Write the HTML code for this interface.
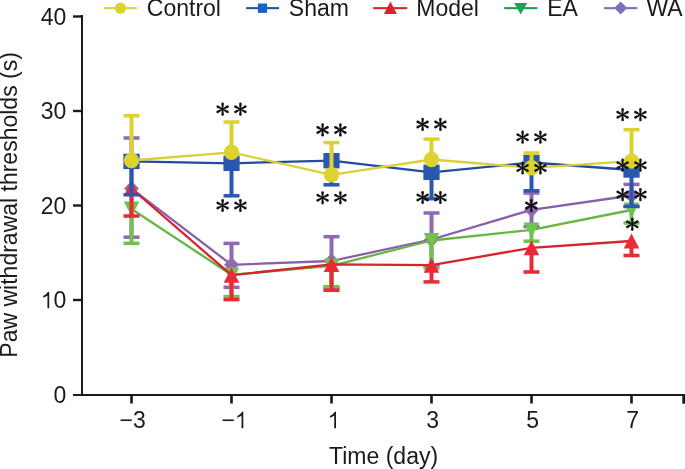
<!DOCTYPE html>
<html><head><meta charset="utf-8"><style>
html,body{margin:0;padding:0;background:#fff;width:685px;height:469px;overflow:hidden}
svg{display:block;will-change:transform}
</style></head><body>
<svg width="685" height="469" viewBox="0 0 685 469" font-family="Liberation Sans, sans-serif" font-size="23" fill="#1a1a1a">
<rect x="81" y="15" width="2" height="381" fill="#1a1a1a"/><rect x="73" y="394" width="612" height="2" fill="#1a1a1a"/><text x="53.51" y="402.80">0</text><rect x="73" y="298.80" width="9" height="2.4" fill="#1a1a1a"/><path d="M755,0 L600,0 L600,1147 Q518,1085 412,1023 Q306,961 221,930 L221,1104 Q372,1175 485,1276 Q598,1377 645,1472 L755,1472 Z" transform="translate(40.72,308.30) scale(0.01123,-0.01123)"/><text x="53.51" y="308.30">0</text><rect x="73" y="204.30" width="9" height="2.4" fill="#1a1a1a"/><text x="40.72" y="213.80">2</text><text x="53.51" y="213.80">0</text><rect x="73" y="109.80" width="9" height="2.4" fill="#1a1a1a"/><text x="40.72" y="119.30">3</text><text x="53.51" y="119.30">0</text><rect x="73" y="15.30" width="9" height="2.4" fill="#1a1a1a"/><text x="40.72" y="24.80">4</text><text x="53.51" y="24.80">0</text><rect x="130.20" y="395" width="2.6" height="8.5" fill="#1a1a1a"/><text x="119.59" y="428.30">−</text><text x="133.02" y="428.30">3</text><rect x="230.20" y="395" width="2.6" height="8.5" fill="#1a1a1a"/><text x="221.39" y="428.30">−</text><path d="M755,0 L600,0 L600,1147 Q518,1085 412,1023 Q306,961 221,930 L221,1104 Q372,1175 485,1276 Q598,1377 645,1472 L755,1472 Z" transform="translate(234.82,428.30) scale(0.01123,-0.01123)"/><rect x="330.20" y="395" width="2.6" height="8.5" fill="#1a1a1a"/><path d="M755,0 L600,0 L600,1147 Q518,1085 412,1023 Q306,961 221,930 L221,1104 Q372,1175 485,1276 Q598,1377 645,1472 L755,1472 Z" transform="translate(327.51,428.30) scale(0.01123,-0.01123)"/><rect x="430.20" y="395" width="2.6" height="8.5" fill="#1a1a1a"/><text x="426.31" y="428.30">3</text><rect x="530.20" y="395" width="2.6" height="8.5" fill="#1a1a1a"/><text x="526.31" y="428.30">5</text><rect x="630.20" y="395" width="2.6" height="8.5" fill="#1a1a1a"/><text x="626.31" y="428.30">7</text><rect x="682.3" y="394" width="3" height="9.7" fill="#1a1a1a"/><text x="383.6" y="464.2" text-anchor="middle">Time (day)</text><text transform="translate(17,204.9) rotate(-90)" text-anchor="middle">Paw withdrawal thresholds (s)</text>
<rect x="103.9" y="7.1" width="32.9" height="2.1" fill="#d9cf45"/><circle cx="120.5" cy="8.2" r="5.6" fill="#ddd22e"/><text x="146.8" y="16.3">Control</text><rect x="246.1" y="7.1" width="32.9" height="2.1" fill="#1d559f"/><rect x="257.9" y="3.5" width="9.2" height="9.4" fill="#1565c0"/><text x="288.8" y="16.3">Sham</text><rect x="373.2" y="7.1" width="34.0" height="2.1" fill="#dc2330"/><polygon points="390.4,1.6 396.9,13.9 383.9,13.9" fill="#e0202a"/><text x="416.3" y="16.3">Model</text><rect x="504.2" y="7.1" width="33.2" height="2.1" fill="#1d9c55"/><polygon points="514.2,3.0 527.2,3.0 520.7,14.6" fill="#1aa555"/><text x="547.1999999999999" y="16.3">EA</text><rect x="604.0" y="7.1" width="33.3" height="2.1" fill="#7a6fbc"/><polygon points="620.7,1.6 627.2,8.0 620.7,14.5 614.2,8.0" fill="#7b70c0"/><text x="646.5" y="16.3">WA</text>
<polyline points="131.50,188.60 231.50,264.80 331.50,261.00 431.50,239.50 531.50,209.80 631.50,195.50" fill="none" stroke="#8660aa" stroke-width="2.3" stroke-linejoin="round"/>
<rect x="129.50" y="138.00" width="4.0" height="50.60" fill="#9168b2"/>
<rect x="123.50" y="136.25" width="16.0" height="3.5" fill="#9168b2"/>
<rect x="129.50" y="188.60" width="4.0" height="48.60" fill="#9168b2"/>
<rect x="123.50" y="235.45" width="16.0" height="3.5" fill="#9168b2"/>
<rect x="229.50" y="243.40" width="4.0" height="21.40" fill="#9168b2"/>
<rect x="223.50" y="241.65" width="16.0" height="3.5" fill="#9168b2"/>
<rect x="229.50" y="264.80" width="4.0" height="22.50" fill="#9168b2"/>
<rect x="223.50" y="285.55" width="16.0" height="3.5" fill="#9168b2"/>
<rect x="329.50" y="236.70" width="4.0" height="24.30" fill="#9168b2"/>
<rect x="323.50" y="234.95" width="16.0" height="3.5" fill="#9168b2"/>
<rect x="329.50" y="261.00" width="4.0" height="27.00" fill="#9168b2"/>
<rect x="323.50" y="286.25" width="16.0" height="3.5" fill="#9168b2"/>
<rect x="429.50" y="213.00" width="4.0" height="26.50" fill="#9168b2"/>
<rect x="423.50" y="211.25" width="16.0" height="3.5" fill="#9168b2"/>
<rect x="429.50" y="239.50" width="4.0" height="26.50" fill="#9168b2"/>
<rect x="423.50" y="264.25" width="16.0" height="3.5" fill="#9168b2"/>
<rect x="529.50" y="193.00" width="4.0" height="16.80" fill="#9168b2"/>
<rect x="523.50" y="191.25" width="16.0" height="3.5" fill="#9168b2"/>
<rect x="529.50" y="209.80" width="4.0" height="16.70" fill="#9168b2"/>
<rect x="523.50" y="224.75" width="16.0" height="3.5" fill="#9168b2"/>
<rect x="629.50" y="184.40" width="4.0" height="11.10" fill="#9168b2"/>
<rect x="623.50" y="182.65" width="16.0" height="3.5" fill="#9168b2"/>
<rect x="629.50" y="195.50" width="4.0" height="11.10" fill="#9168b2"/>
<rect x="623.50" y="204.85" width="16.0" height="3.5" fill="#9168b2"/>
<polygon points="131.50,180.70 138.90,188.60 131.50,196.50 124.10,188.60" fill="#9168b2"/>
<polygon points="231.50,256.90 238.90,264.80 231.50,272.70 224.10,264.80" fill="#9168b2"/>
<polygon points="331.50,253.10 338.90,261.00 331.50,268.90 324.10,261.00" fill="#9168b2"/>
<polygon points="431.50,231.60 438.90,239.50 431.50,247.40 424.10,239.50" fill="#9168b2"/>
<polygon points="531.50,201.90 538.90,209.80 531.50,217.70 524.10,209.80" fill="#9168b2"/>
<polygon points="631.50,187.60 638.90,195.50 631.50,203.40 624.10,195.50" fill="#9168b2"/><polyline points="131.50,209.00 231.50,274.80 331.50,265.80 431.50,240.50 531.50,229.80 631.50,210.00" fill="none" stroke="#66b545" stroke-width="2.3" stroke-linejoin="round"/>
<rect x="129.50" y="209.00" width="4.0" height="34.30" fill="#72c24e"/>
<rect x="123.50" y="241.55" width="16.0" height="3.5" fill="#72c24e"/>
<rect x="229.50" y="274.80" width="4.0" height="21.70" fill="#72c24e"/>
<rect x="223.50" y="294.75" width="16.0" height="3.5" fill="#72c24e"/>
<rect x="329.50" y="265.80" width="4.0" height="20.90" fill="#72c24e"/>
<rect x="323.50" y="284.95" width="16.0" height="3.5" fill="#72c24e"/>
<rect x="429.50" y="240.50" width="4.0" height="27.50" fill="#72c24e"/>
<rect x="423.50" y="266.25" width="16.0" height="3.5" fill="#72c24e"/>
<rect x="529.50" y="229.80" width="4.0" height="11.40" fill="#72c24e"/>
<rect x="523.50" y="239.45" width="16.0" height="3.5" fill="#72c24e"/>
<rect x="629.50" y="210.00" width="4.0" height="13.00" fill="#72c24e"/>
<rect x="623.50" y="221.25" width="16.0" height="3.5" fill="#72c24e"/>
<polygon points="123.70,201.60 139.30,201.60 131.50,216.40" fill="#72c24e"/>
<polygon points="223.70,267.40 239.30,267.40 231.50,282.20" fill="#72c24e"/>
<polygon points="323.70,258.40 339.30,258.40 331.50,273.20" fill="#72c24e"/>
<polygon points="423.70,233.10 439.30,233.10 431.50,247.90" fill="#72c24e"/>
<polygon points="523.70,222.40 539.30,222.40 531.50,237.20" fill="#72c24e"/>
<polygon points="623.70,202.60 639.30,202.60 631.50,217.40" fill="#72c24e"/><polyline points="131.50,188.50 231.50,275.20 331.50,264.40 431.50,265.20 531.50,247.80 631.50,241.00" fill="none" stroke="#d8232f" stroke-width="2.3" stroke-linejoin="round"/>
<rect x="129.50" y="188.50" width="4.0" height="27.50" fill="#ea2a36"/>
<rect x="123.50" y="214.25" width="16.0" height="3.5" fill="#ea2a36"/>
<rect x="229.50" y="275.20" width="4.0" height="24.40" fill="#ea2a36"/>
<rect x="223.50" y="297.85" width="16.0" height="3.5" fill="#ea2a36"/>
<rect x="329.50" y="264.40" width="4.0" height="25.90" fill="#ea2a36"/>
<rect x="323.50" y="288.55" width="16.0" height="3.5" fill="#ea2a36"/>
<rect x="429.50" y="265.20" width="4.0" height="16.70" fill="#ea2a36"/>
<rect x="423.50" y="280.15" width="16.0" height="3.5" fill="#ea2a36"/>
<rect x="529.50" y="247.80" width="4.0" height="24.20" fill="#ea2a36"/>
<rect x="523.50" y="270.25" width="16.0" height="3.5" fill="#ea2a36"/>
<rect x="629.50" y="241.00" width="4.0" height="14.50" fill="#ea2a36"/>
<rect x="623.50" y="253.75" width="16.0" height="3.5" fill="#ea2a36"/>
<polygon points="131.50,181.00 139.30,196.00 123.70,196.00" fill="#ea2a36"/>
<polygon points="231.50,267.70 239.30,282.70 223.70,282.70" fill="#ea2a36"/>
<polygon points="331.50,256.90 339.30,271.90 323.70,271.90" fill="#ea2a36"/>
<polygon points="431.50,257.70 439.30,272.70 423.70,272.70" fill="#ea2a36"/>
<polygon points="531.50,240.30 539.30,255.30 523.70,255.30" fill="#ea2a36"/>
<polygon points="631.50,233.50 639.30,248.50 623.70,248.50" fill="#ea2a36"/><polyline points="131.50,161.40 231.50,163.30 331.50,160.70 431.50,172.30 531.50,162.50 631.50,170.00" fill="none" stroke="#244b9e" stroke-width="2.3" stroke-linejoin="round"/>
<rect x="129.50" y="161.40" width="4.0" height="33.40" fill="#2a57b0"/>
<rect x="123.50" y="193.05" width="16.0" height="3.5" fill="#2a57b0"/>
<rect x="229.50" y="163.30" width="4.0" height="32.50" fill="#2a57b0"/>
<rect x="223.50" y="194.05" width="16.0" height="3.5" fill="#2a57b0"/>
<rect x="329.50" y="160.70" width="4.0" height="24.10" fill="#2a57b0"/>
<rect x="323.50" y="183.05" width="16.0" height="3.5" fill="#2a57b0"/>
<rect x="429.50" y="172.30" width="4.0" height="26.40" fill="#2a57b0"/>
<rect x="423.50" y="196.95" width="16.0" height="3.5" fill="#2a57b0"/>
<rect x="529.50" y="162.50" width="4.0" height="28.30" fill="#2a57b0"/>
<rect x="523.50" y="189.05" width="16.0" height="3.5" fill="#2a57b0"/>
<rect x="629.50" y="170.00" width="4.0" height="36.30" fill="#2a57b0"/>
<rect x="623.50" y="204.55" width="16.0" height="3.5" fill="#2a57b0"/>
<rect x="123.40" y="153.70" width="16.20" height="15.40" fill="#2a57b0"/>
<rect x="223.40" y="155.60" width="16.20" height="15.40" fill="#2a57b0"/>
<rect x="323.40" y="153.00" width="16.20" height="15.40" fill="#2a57b0"/>
<rect x="423.40" y="164.60" width="16.20" height="15.40" fill="#2a57b0"/>
<rect x="523.40" y="154.80" width="16.20" height="15.40" fill="#2a57b0"/>
<rect x="623.40" y="162.30" width="16.20" height="15.40" fill="#2a57b0"/><polyline points="131.50,160.50 231.50,152.30 331.50,174.80 431.50,159.50 531.50,167.80 631.50,161.10" fill="none" stroke="#d9d03a" stroke-width="2.3" stroke-linejoin="round"/>
<rect x="129.50" y="115.70" width="4.0" height="44.80" fill="#ddd22e"/>
<rect x="123.50" y="113.95" width="16.0" height="3.5" fill="#ddd22e"/>
<rect x="229.50" y="122.00" width="4.0" height="30.30" fill="#ddd22e"/>
<rect x="223.50" y="120.25" width="16.0" height="3.5" fill="#ddd22e"/>
<rect x="329.50" y="142.60" width="4.0" height="32.20" fill="#ddd22e"/>
<rect x="323.50" y="140.85" width="16.0" height="3.5" fill="#ddd22e"/>
<rect x="429.50" y="139.10" width="4.0" height="20.40" fill="#ddd22e"/>
<rect x="423.50" y="137.35" width="16.0" height="3.5" fill="#ddd22e"/>
<rect x="529.50" y="153.00" width="4.0" height="14.80" fill="#ddd22e"/>
<rect x="523.50" y="151.25" width="16.0" height="3.5" fill="#ddd22e"/>
<rect x="629.50" y="129.70" width="4.0" height="31.40" fill="#ddd22e"/>
<rect x="623.50" y="127.95" width="16.0" height="3.5" fill="#ddd22e"/>
<circle cx="131.50" cy="160.50" r="7.70" fill="#ddd22e"/>
<circle cx="231.50" cy="152.30" r="7.70" fill="#ddd22e"/>
<circle cx="331.50" cy="174.80" r="7.70" fill="#ddd22e"/>
<circle cx="431.50" cy="159.50" r="7.70" fill="#ddd22e"/>
<circle cx="531.50" cy="167.80" r="7.70" fill="#ddd22e"/>
<circle cx="631.50" cy="161.10" r="7.70" fill="#ddd22e"/>
<g fill="#111"><g transform="translate(222.60,109.20)"><path d="M-0.65,0 L-1.3,-5.30 A1.3,1.3 0 0 1 1.3,-5.30 L0.65,0 Z"/><path d="M-0.65,0 L-1.3,-5.30 A1.3,1.3 0 0 1 1.3,-5.30 L0.65,0 Z" transform="rotate(180)"/><path d="M-0.65,0 L-1.3,-5.60 A1.3,1.3 0 0 1 1.3,-5.60 L0.65,0 Z" transform="rotate(62)"/><path d="M-0.65,0 L-1.3,-5.60 A1.3,1.3 0 0 1 1.3,-5.60 L0.65,0 Z" transform="rotate(118)"/><path d="M-0.65,0 L-1.3,-5.60 A1.3,1.3 0 0 1 1.3,-5.60 L0.65,0 Z" transform="rotate(242)"/><path d="M-0.65,0 L-1.3,-5.60 A1.3,1.3 0 0 1 1.3,-5.60 L0.65,0 Z" transform="rotate(298)"/></g><g transform="translate(240.40,109.20)"><path d="M-0.65,0 L-1.3,-5.30 A1.3,1.3 0 0 1 1.3,-5.30 L0.65,0 Z"/><path d="M-0.65,0 L-1.3,-5.30 A1.3,1.3 0 0 1 1.3,-5.30 L0.65,0 Z" transform="rotate(180)"/><path d="M-0.65,0 L-1.3,-5.60 A1.3,1.3 0 0 1 1.3,-5.60 L0.65,0 Z" transform="rotate(62)"/><path d="M-0.65,0 L-1.3,-5.60 A1.3,1.3 0 0 1 1.3,-5.60 L0.65,0 Z" transform="rotate(118)"/><path d="M-0.65,0 L-1.3,-5.60 A1.3,1.3 0 0 1 1.3,-5.60 L0.65,0 Z" transform="rotate(242)"/><path d="M-0.65,0 L-1.3,-5.60 A1.3,1.3 0 0 1 1.3,-5.60 L0.65,0 Z" transform="rotate(298)"/></g><g transform="translate(222.60,205.50)"><path d="M-0.65,0 L-1.3,-5.30 A1.3,1.3 0 0 1 1.3,-5.30 L0.65,0 Z"/><path d="M-0.65,0 L-1.3,-5.30 A1.3,1.3 0 0 1 1.3,-5.30 L0.65,0 Z" transform="rotate(180)"/><path d="M-0.65,0 L-1.3,-5.60 A1.3,1.3 0 0 1 1.3,-5.60 L0.65,0 Z" transform="rotate(62)"/><path d="M-0.65,0 L-1.3,-5.60 A1.3,1.3 0 0 1 1.3,-5.60 L0.65,0 Z" transform="rotate(118)"/><path d="M-0.65,0 L-1.3,-5.60 A1.3,1.3 0 0 1 1.3,-5.60 L0.65,0 Z" transform="rotate(242)"/><path d="M-0.65,0 L-1.3,-5.60 A1.3,1.3 0 0 1 1.3,-5.60 L0.65,0 Z" transform="rotate(298)"/></g><g transform="translate(240.40,205.50)"><path d="M-0.65,0 L-1.3,-5.30 A1.3,1.3 0 0 1 1.3,-5.30 L0.65,0 Z"/><path d="M-0.65,0 L-1.3,-5.30 A1.3,1.3 0 0 1 1.3,-5.30 L0.65,0 Z" transform="rotate(180)"/><path d="M-0.65,0 L-1.3,-5.60 A1.3,1.3 0 0 1 1.3,-5.60 L0.65,0 Z" transform="rotate(62)"/><path d="M-0.65,0 L-1.3,-5.60 A1.3,1.3 0 0 1 1.3,-5.60 L0.65,0 Z" transform="rotate(118)"/><path d="M-0.65,0 L-1.3,-5.60 A1.3,1.3 0 0 1 1.3,-5.60 L0.65,0 Z" transform="rotate(242)"/><path d="M-0.65,0 L-1.3,-5.60 A1.3,1.3 0 0 1 1.3,-5.60 L0.65,0 Z" transform="rotate(298)"/></g><g transform="translate(322.60,129.90)"><path d="M-0.65,0 L-1.3,-5.30 A1.3,1.3 0 0 1 1.3,-5.30 L0.65,0 Z"/><path d="M-0.65,0 L-1.3,-5.30 A1.3,1.3 0 0 1 1.3,-5.30 L0.65,0 Z" transform="rotate(180)"/><path d="M-0.65,0 L-1.3,-5.60 A1.3,1.3 0 0 1 1.3,-5.60 L0.65,0 Z" transform="rotate(62)"/><path d="M-0.65,0 L-1.3,-5.60 A1.3,1.3 0 0 1 1.3,-5.60 L0.65,0 Z" transform="rotate(118)"/><path d="M-0.65,0 L-1.3,-5.60 A1.3,1.3 0 0 1 1.3,-5.60 L0.65,0 Z" transform="rotate(242)"/><path d="M-0.65,0 L-1.3,-5.60 A1.3,1.3 0 0 1 1.3,-5.60 L0.65,0 Z" transform="rotate(298)"/></g><g transform="translate(340.40,129.90)"><path d="M-0.65,0 L-1.3,-5.30 A1.3,1.3 0 0 1 1.3,-5.30 L0.65,0 Z"/><path d="M-0.65,0 L-1.3,-5.30 A1.3,1.3 0 0 1 1.3,-5.30 L0.65,0 Z" transform="rotate(180)"/><path d="M-0.65,0 L-1.3,-5.60 A1.3,1.3 0 0 1 1.3,-5.60 L0.65,0 Z" transform="rotate(62)"/><path d="M-0.65,0 L-1.3,-5.60 A1.3,1.3 0 0 1 1.3,-5.60 L0.65,0 Z" transform="rotate(118)"/><path d="M-0.65,0 L-1.3,-5.60 A1.3,1.3 0 0 1 1.3,-5.60 L0.65,0 Z" transform="rotate(242)"/><path d="M-0.65,0 L-1.3,-5.60 A1.3,1.3 0 0 1 1.3,-5.60 L0.65,0 Z" transform="rotate(298)"/></g><g transform="translate(322.60,197.80)"><path d="M-0.65,0 L-1.3,-5.30 A1.3,1.3 0 0 1 1.3,-5.30 L0.65,0 Z"/><path d="M-0.65,0 L-1.3,-5.30 A1.3,1.3 0 0 1 1.3,-5.30 L0.65,0 Z" transform="rotate(180)"/><path d="M-0.65,0 L-1.3,-5.60 A1.3,1.3 0 0 1 1.3,-5.60 L0.65,0 Z" transform="rotate(62)"/><path d="M-0.65,0 L-1.3,-5.60 A1.3,1.3 0 0 1 1.3,-5.60 L0.65,0 Z" transform="rotate(118)"/><path d="M-0.65,0 L-1.3,-5.60 A1.3,1.3 0 0 1 1.3,-5.60 L0.65,0 Z" transform="rotate(242)"/><path d="M-0.65,0 L-1.3,-5.60 A1.3,1.3 0 0 1 1.3,-5.60 L0.65,0 Z" transform="rotate(298)"/></g><g transform="translate(340.40,197.80)"><path d="M-0.65,0 L-1.3,-5.30 A1.3,1.3 0 0 1 1.3,-5.30 L0.65,0 Z"/><path d="M-0.65,0 L-1.3,-5.30 A1.3,1.3 0 0 1 1.3,-5.30 L0.65,0 Z" transform="rotate(180)"/><path d="M-0.65,0 L-1.3,-5.60 A1.3,1.3 0 0 1 1.3,-5.60 L0.65,0 Z" transform="rotate(62)"/><path d="M-0.65,0 L-1.3,-5.60 A1.3,1.3 0 0 1 1.3,-5.60 L0.65,0 Z" transform="rotate(118)"/><path d="M-0.65,0 L-1.3,-5.60 A1.3,1.3 0 0 1 1.3,-5.60 L0.65,0 Z" transform="rotate(242)"/><path d="M-0.65,0 L-1.3,-5.60 A1.3,1.3 0 0 1 1.3,-5.60 L0.65,0 Z" transform="rotate(298)"/></g><g transform="translate(422.60,124.40)"><path d="M-0.65,0 L-1.3,-5.30 A1.3,1.3 0 0 1 1.3,-5.30 L0.65,0 Z"/><path d="M-0.65,0 L-1.3,-5.30 A1.3,1.3 0 0 1 1.3,-5.30 L0.65,0 Z" transform="rotate(180)"/><path d="M-0.65,0 L-1.3,-5.60 A1.3,1.3 0 0 1 1.3,-5.60 L0.65,0 Z" transform="rotate(62)"/><path d="M-0.65,0 L-1.3,-5.60 A1.3,1.3 0 0 1 1.3,-5.60 L0.65,0 Z" transform="rotate(118)"/><path d="M-0.65,0 L-1.3,-5.60 A1.3,1.3 0 0 1 1.3,-5.60 L0.65,0 Z" transform="rotate(242)"/><path d="M-0.65,0 L-1.3,-5.60 A1.3,1.3 0 0 1 1.3,-5.60 L0.65,0 Z" transform="rotate(298)"/></g><g transform="translate(440.40,124.40)"><path d="M-0.65,0 L-1.3,-5.30 A1.3,1.3 0 0 1 1.3,-5.30 L0.65,0 Z"/><path d="M-0.65,0 L-1.3,-5.30 A1.3,1.3 0 0 1 1.3,-5.30 L0.65,0 Z" transform="rotate(180)"/><path d="M-0.65,0 L-1.3,-5.60 A1.3,1.3 0 0 1 1.3,-5.60 L0.65,0 Z" transform="rotate(62)"/><path d="M-0.65,0 L-1.3,-5.60 A1.3,1.3 0 0 1 1.3,-5.60 L0.65,0 Z" transform="rotate(118)"/><path d="M-0.65,0 L-1.3,-5.60 A1.3,1.3 0 0 1 1.3,-5.60 L0.65,0 Z" transform="rotate(242)"/><path d="M-0.65,0 L-1.3,-5.60 A1.3,1.3 0 0 1 1.3,-5.60 L0.65,0 Z" transform="rotate(298)"/></g><g transform="translate(422.60,197.50)"><path d="M-0.65,0 L-1.3,-5.30 A1.3,1.3 0 0 1 1.3,-5.30 L0.65,0 Z"/><path d="M-0.65,0 L-1.3,-5.30 A1.3,1.3 0 0 1 1.3,-5.30 L0.65,0 Z" transform="rotate(180)"/><path d="M-0.65,0 L-1.3,-5.60 A1.3,1.3 0 0 1 1.3,-5.60 L0.65,0 Z" transform="rotate(62)"/><path d="M-0.65,0 L-1.3,-5.60 A1.3,1.3 0 0 1 1.3,-5.60 L0.65,0 Z" transform="rotate(118)"/><path d="M-0.65,0 L-1.3,-5.60 A1.3,1.3 0 0 1 1.3,-5.60 L0.65,0 Z" transform="rotate(242)"/><path d="M-0.65,0 L-1.3,-5.60 A1.3,1.3 0 0 1 1.3,-5.60 L0.65,0 Z" transform="rotate(298)"/></g><g transform="translate(440.40,197.50)"><path d="M-0.65,0 L-1.3,-5.30 A1.3,1.3 0 0 1 1.3,-5.30 L0.65,0 Z"/><path d="M-0.65,0 L-1.3,-5.30 A1.3,1.3 0 0 1 1.3,-5.30 L0.65,0 Z" transform="rotate(180)"/><path d="M-0.65,0 L-1.3,-5.60 A1.3,1.3 0 0 1 1.3,-5.60 L0.65,0 Z" transform="rotate(62)"/><path d="M-0.65,0 L-1.3,-5.60 A1.3,1.3 0 0 1 1.3,-5.60 L0.65,0 Z" transform="rotate(118)"/><path d="M-0.65,0 L-1.3,-5.60 A1.3,1.3 0 0 1 1.3,-5.60 L0.65,0 Z" transform="rotate(242)"/><path d="M-0.65,0 L-1.3,-5.60 A1.3,1.3 0 0 1 1.3,-5.60 L0.65,0 Z" transform="rotate(298)"/></g><g transform="translate(522.60,137.20)"><path d="M-0.65,0 L-1.3,-5.30 A1.3,1.3 0 0 1 1.3,-5.30 L0.65,0 Z"/><path d="M-0.65,0 L-1.3,-5.30 A1.3,1.3 0 0 1 1.3,-5.30 L0.65,0 Z" transform="rotate(180)"/><path d="M-0.65,0 L-1.3,-5.60 A1.3,1.3 0 0 1 1.3,-5.60 L0.65,0 Z" transform="rotate(62)"/><path d="M-0.65,0 L-1.3,-5.60 A1.3,1.3 0 0 1 1.3,-5.60 L0.65,0 Z" transform="rotate(118)"/><path d="M-0.65,0 L-1.3,-5.60 A1.3,1.3 0 0 1 1.3,-5.60 L0.65,0 Z" transform="rotate(242)"/><path d="M-0.65,0 L-1.3,-5.60 A1.3,1.3 0 0 1 1.3,-5.60 L0.65,0 Z" transform="rotate(298)"/></g><g transform="translate(540.40,137.20)"><path d="M-0.65,0 L-1.3,-5.30 A1.3,1.3 0 0 1 1.3,-5.30 L0.65,0 Z"/><path d="M-0.65,0 L-1.3,-5.30 A1.3,1.3 0 0 1 1.3,-5.30 L0.65,0 Z" transform="rotate(180)"/><path d="M-0.65,0 L-1.3,-5.60 A1.3,1.3 0 0 1 1.3,-5.60 L0.65,0 Z" transform="rotate(62)"/><path d="M-0.65,0 L-1.3,-5.60 A1.3,1.3 0 0 1 1.3,-5.60 L0.65,0 Z" transform="rotate(118)"/><path d="M-0.65,0 L-1.3,-5.60 A1.3,1.3 0 0 1 1.3,-5.60 L0.65,0 Z" transform="rotate(242)"/><path d="M-0.65,0 L-1.3,-5.60 A1.3,1.3 0 0 1 1.3,-5.60 L0.65,0 Z" transform="rotate(298)"/></g><g transform="translate(522.60,168.00)"><path d="M-0.65,0 L-1.3,-5.30 A1.3,1.3 0 0 1 1.3,-5.30 L0.65,0 Z"/><path d="M-0.65,0 L-1.3,-5.30 A1.3,1.3 0 0 1 1.3,-5.30 L0.65,0 Z" transform="rotate(180)"/><path d="M-0.65,0 L-1.3,-5.60 A1.3,1.3 0 0 1 1.3,-5.60 L0.65,0 Z" transform="rotate(62)"/><path d="M-0.65,0 L-1.3,-5.60 A1.3,1.3 0 0 1 1.3,-5.60 L0.65,0 Z" transform="rotate(118)"/><path d="M-0.65,0 L-1.3,-5.60 A1.3,1.3 0 0 1 1.3,-5.60 L0.65,0 Z" transform="rotate(242)"/><path d="M-0.65,0 L-1.3,-5.60 A1.3,1.3 0 0 1 1.3,-5.60 L0.65,0 Z" transform="rotate(298)"/></g><g transform="translate(540.40,168.00)"><path d="M-0.65,0 L-1.3,-5.30 A1.3,1.3 0 0 1 1.3,-5.30 L0.65,0 Z"/><path d="M-0.65,0 L-1.3,-5.30 A1.3,1.3 0 0 1 1.3,-5.30 L0.65,0 Z" transform="rotate(180)"/><path d="M-0.65,0 L-1.3,-5.60 A1.3,1.3 0 0 1 1.3,-5.60 L0.65,0 Z" transform="rotate(62)"/><path d="M-0.65,0 L-1.3,-5.60 A1.3,1.3 0 0 1 1.3,-5.60 L0.65,0 Z" transform="rotate(118)"/><path d="M-0.65,0 L-1.3,-5.60 A1.3,1.3 0 0 1 1.3,-5.60 L0.65,0 Z" transform="rotate(242)"/><path d="M-0.65,0 L-1.3,-5.60 A1.3,1.3 0 0 1 1.3,-5.60 L0.65,0 Z" transform="rotate(298)"/></g><g transform="translate(531.30,205.60)"><path d="M-0.65,0 L-1.3,-5.30 A1.3,1.3 0 0 1 1.3,-5.30 L0.65,0 Z"/><path d="M-0.65,0 L-1.3,-5.30 A1.3,1.3 0 0 1 1.3,-5.30 L0.65,0 Z" transform="rotate(180)"/><path d="M-0.65,0 L-1.3,-5.60 A1.3,1.3 0 0 1 1.3,-5.60 L0.65,0 Z" transform="rotate(62)"/><path d="M-0.65,0 L-1.3,-5.60 A1.3,1.3 0 0 1 1.3,-5.60 L0.65,0 Z" transform="rotate(118)"/><path d="M-0.65,0 L-1.3,-5.60 A1.3,1.3 0 0 1 1.3,-5.60 L0.65,0 Z" transform="rotate(242)"/><path d="M-0.65,0 L-1.3,-5.60 A1.3,1.3 0 0 1 1.3,-5.60 L0.65,0 Z" transform="rotate(298)"/></g><g transform="translate(622.60,114.70)"><path d="M-0.65,0 L-1.3,-5.30 A1.3,1.3 0 0 1 1.3,-5.30 L0.65,0 Z"/><path d="M-0.65,0 L-1.3,-5.30 A1.3,1.3 0 0 1 1.3,-5.30 L0.65,0 Z" transform="rotate(180)"/><path d="M-0.65,0 L-1.3,-5.60 A1.3,1.3 0 0 1 1.3,-5.60 L0.65,0 Z" transform="rotate(62)"/><path d="M-0.65,0 L-1.3,-5.60 A1.3,1.3 0 0 1 1.3,-5.60 L0.65,0 Z" transform="rotate(118)"/><path d="M-0.65,0 L-1.3,-5.60 A1.3,1.3 0 0 1 1.3,-5.60 L0.65,0 Z" transform="rotate(242)"/><path d="M-0.65,0 L-1.3,-5.60 A1.3,1.3 0 0 1 1.3,-5.60 L0.65,0 Z" transform="rotate(298)"/></g><g transform="translate(640.40,114.70)"><path d="M-0.65,0 L-1.3,-5.30 A1.3,1.3 0 0 1 1.3,-5.30 L0.65,0 Z"/><path d="M-0.65,0 L-1.3,-5.30 A1.3,1.3 0 0 1 1.3,-5.30 L0.65,0 Z" transform="rotate(180)"/><path d="M-0.65,0 L-1.3,-5.60 A1.3,1.3 0 0 1 1.3,-5.60 L0.65,0 Z" transform="rotate(62)"/><path d="M-0.65,0 L-1.3,-5.60 A1.3,1.3 0 0 1 1.3,-5.60 L0.65,0 Z" transform="rotate(118)"/><path d="M-0.65,0 L-1.3,-5.60 A1.3,1.3 0 0 1 1.3,-5.60 L0.65,0 Z" transform="rotate(242)"/><path d="M-0.65,0 L-1.3,-5.60 A1.3,1.3 0 0 1 1.3,-5.60 L0.65,0 Z" transform="rotate(298)"/></g><g transform="translate(622.60,165.20)"><path d="M-0.65,0 L-1.3,-5.30 A1.3,1.3 0 0 1 1.3,-5.30 L0.65,0 Z"/><path d="M-0.65,0 L-1.3,-5.30 A1.3,1.3 0 0 1 1.3,-5.30 L0.65,0 Z" transform="rotate(180)"/><path d="M-0.65,0 L-1.3,-5.60 A1.3,1.3 0 0 1 1.3,-5.60 L0.65,0 Z" transform="rotate(62)"/><path d="M-0.65,0 L-1.3,-5.60 A1.3,1.3 0 0 1 1.3,-5.60 L0.65,0 Z" transform="rotate(118)"/><path d="M-0.65,0 L-1.3,-5.60 A1.3,1.3 0 0 1 1.3,-5.60 L0.65,0 Z" transform="rotate(242)"/><path d="M-0.65,0 L-1.3,-5.60 A1.3,1.3 0 0 1 1.3,-5.60 L0.65,0 Z" transform="rotate(298)"/></g><g transform="translate(640.40,165.20)"><path d="M-0.65,0 L-1.3,-5.30 A1.3,1.3 0 0 1 1.3,-5.30 L0.65,0 Z"/><path d="M-0.65,0 L-1.3,-5.30 A1.3,1.3 0 0 1 1.3,-5.30 L0.65,0 Z" transform="rotate(180)"/><path d="M-0.65,0 L-1.3,-5.60 A1.3,1.3 0 0 1 1.3,-5.60 L0.65,0 Z" transform="rotate(62)"/><path d="M-0.65,0 L-1.3,-5.60 A1.3,1.3 0 0 1 1.3,-5.60 L0.65,0 Z" transform="rotate(118)"/><path d="M-0.65,0 L-1.3,-5.60 A1.3,1.3 0 0 1 1.3,-5.60 L0.65,0 Z" transform="rotate(242)"/><path d="M-0.65,0 L-1.3,-5.60 A1.3,1.3 0 0 1 1.3,-5.60 L0.65,0 Z" transform="rotate(298)"/></g><g transform="translate(622.60,194.60)"><path d="M-0.65,0 L-1.3,-5.30 A1.3,1.3 0 0 1 1.3,-5.30 L0.65,0 Z"/><path d="M-0.65,0 L-1.3,-5.30 A1.3,1.3 0 0 1 1.3,-5.30 L0.65,0 Z" transform="rotate(180)"/><path d="M-0.65,0 L-1.3,-5.60 A1.3,1.3 0 0 1 1.3,-5.60 L0.65,0 Z" transform="rotate(62)"/><path d="M-0.65,0 L-1.3,-5.60 A1.3,1.3 0 0 1 1.3,-5.60 L0.65,0 Z" transform="rotate(118)"/><path d="M-0.65,0 L-1.3,-5.60 A1.3,1.3 0 0 1 1.3,-5.60 L0.65,0 Z" transform="rotate(242)"/><path d="M-0.65,0 L-1.3,-5.60 A1.3,1.3 0 0 1 1.3,-5.60 L0.65,0 Z" transform="rotate(298)"/></g><g transform="translate(640.40,194.60)"><path d="M-0.65,0 L-1.3,-5.30 A1.3,1.3 0 0 1 1.3,-5.30 L0.65,0 Z"/><path d="M-0.65,0 L-1.3,-5.30 A1.3,1.3 0 0 1 1.3,-5.30 L0.65,0 Z" transform="rotate(180)"/><path d="M-0.65,0 L-1.3,-5.60 A1.3,1.3 0 0 1 1.3,-5.60 L0.65,0 Z" transform="rotate(62)"/><path d="M-0.65,0 L-1.3,-5.60 A1.3,1.3 0 0 1 1.3,-5.60 L0.65,0 Z" transform="rotate(118)"/><path d="M-0.65,0 L-1.3,-5.60 A1.3,1.3 0 0 1 1.3,-5.60 L0.65,0 Z" transform="rotate(242)"/><path d="M-0.65,0 L-1.3,-5.60 A1.3,1.3 0 0 1 1.3,-5.60 L0.65,0 Z" transform="rotate(298)"/></g><g transform="translate(632.30,224.30)"><path d="M-0.65,0 L-1.3,-5.30 A1.3,1.3 0 0 1 1.3,-5.30 L0.65,0 Z"/><path d="M-0.65,0 L-1.3,-5.30 A1.3,1.3 0 0 1 1.3,-5.30 L0.65,0 Z" transform="rotate(180)"/><path d="M-0.65,0 L-1.3,-5.60 A1.3,1.3 0 0 1 1.3,-5.60 L0.65,0 Z" transform="rotate(62)"/><path d="M-0.65,0 L-1.3,-5.60 A1.3,1.3 0 0 1 1.3,-5.60 L0.65,0 Z" transform="rotate(118)"/><path d="M-0.65,0 L-1.3,-5.60 A1.3,1.3 0 0 1 1.3,-5.60 L0.65,0 Z" transform="rotate(242)"/><path d="M-0.65,0 L-1.3,-5.60 A1.3,1.3 0 0 1 1.3,-5.60 L0.65,0 Z" transform="rotate(298)"/></g></g>
</svg>
</body></html>
